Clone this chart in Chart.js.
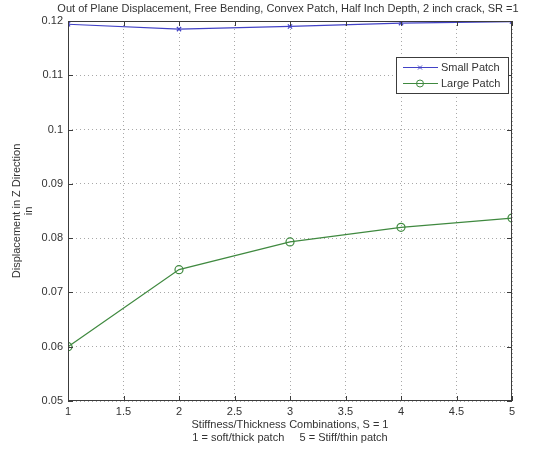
<!DOCTYPE html>
<html>
<head>
<meta charset="utf-8">
<script src="https://cdn.jsdelivr.net/npm/chart.js@4.4.0/dist/chart.umd.min.js"></script>
<style>
  html, body { margin: 0; padding: 0; background: #fff; }
  #wrap { width: 537px; height: 450px; }
</style>
</head>
<body>
<div id="wrap"><canvas id="chart" width="537" height="450"></canvas></div>
<script>
// data
const combos = [1, 2, 3, 4, 5];
const smallPatch = [0.1194, 0.1185, 0.1190, 0.1196, 0.1199];
const largePatch = [0.0600, 0.0742, 0.0793, 0.0820, 0.0837];
const xTicks = [1, 1.5, 2, 2.5, 3, 3.5, 4, 4.5, 5];
const yTicks = [0.05, 0.06, 0.07, 0.08, 0.09, 0.1, 0.11, 0.12];

const SMALL_COLOR = '#4242c6';
const LARGE_COLOR = '#3f893f';
const AXIS_COLOR = '#3c3c3c';
const FONT = 'Liberation Sans, Arial, sans-serif';

const toPoints = (xs, ys) => xs.map((x, i) => ({ x: x, y: ys[i] }));

// frame, inward ticks, titles and legend, MATLAB style
const matlabLook = {
  id: 'matlabLook',
  afterDraw(chart) {
    const ctx = chart.ctx;
    const a = chart.chartArea;
    const xs = chart.scales.x, ys = chart.scales.y;
    ctx.save();
    ctx.strokeStyle = AXIS_COLOR;
    ctx.lineWidth = 1;
    ctx.strokeRect(a.left + 0.5, a.top + 0.5, a.right - a.left - 1, a.bottom - a.top - 1);
    ctx.beginPath();
    xTicks.forEach(v => {
      const px = Math.round(xs.getPixelForValue(v)) + 0.5;
      ctx.moveTo(px, a.bottom); ctx.lineTo(px, a.bottom - 5);
      ctx.moveTo(px, a.top); ctx.lineTo(px, a.top + 5);
    });
    yTicks.forEach(v => {
      const py = Math.round(ys.getPixelForValue(v)) + 0.5;
      ctx.moveTo(a.left, py); ctx.lineTo(a.left + 5, py);
      ctx.moveTo(a.right, py); ctx.lineTo(a.right - 5, py);
    });
    ctx.stroke();

    ctx.fillStyle = '#333';
    ctx.font = '11px ' + FONT;
    ctx.textAlign = 'center';
    ctx.textBaseline = 'middle';
    ctx.fillText('Out of Plane Displacement, Free Bending, Convex Patch, Half Inch Depth, 2 inch crack, SR =1', 288, 9);
    const cx = (a.left + a.right) / 2;
    ctx.fillText('Stiffness/Thickness Combinations, S = 1', cx, 425);
    ctx.fillText('1 = soft/thick patch     5 = Stiff/thin patch', cx, 438);

    ctx.save();
    ctx.translate(17, 211);
    ctx.rotate(-Math.PI / 2);
    ctx.fillText('Displacement in Z Direction', 0, 0);
    ctx.fillText('in', 0, 12);
    ctx.restore();

    // legend box
    const lx = 396, ly = 57, lw = 112, lh = 36;
    ctx.fillStyle = '#fff';
    ctx.fillRect(lx, ly, lw, lh);
    ctx.strokeStyle = AXIS_COLOR;
    ctx.strokeRect(lx + 0.5, ly + 0.5, lw, lh);
    const rows = [
      { label: 'Small Patch', color: SMALL_COLOR, marker: 'x' },
      { label: 'Large Patch', color: LARGE_COLOR, marker: 'o' }
    ];
    rows.forEach((r, i) => {
      const y = ly + 10.5 + i * 16;
      ctx.strokeStyle = r.color;
      ctx.beginPath();
      ctx.moveTo(lx + 7, y); ctx.lineTo(lx + 42, y);
      ctx.stroke();
      ctx.beginPath();
      if (r.marker === 'x') {
        ctx.moveTo(lx + 22, y - 2); ctx.lineTo(lx + 26, y + 2);
        ctx.moveTo(lx + 26, y - 2); ctx.lineTo(lx + 22, y + 2);
      } else {
        ctx.arc(lx + 24, y, 3.5, 0, Math.PI * 2);
      }
      ctx.stroke();
      ctx.fillStyle = '#333';
      ctx.textAlign = 'left';
      ctx.fillText(r.label, lx + 45, y);
    });
    ctx.restore();
  }
};

new Chart(document.getElementById('chart').getContext('2d'), {
  type: 'line',
  data: {
    datasets: [{
      label: 'Small Patch',
      data: toPoints(combos, smallPatch),
      borderColor: SMALL_COLOR,
      backgroundColor: SMALL_COLOR,
      borderWidth: 1.2,
      pointStyle: 'crossRot',
      pointRadius: 3,
      pointBorderWidth: 1.2,
      tension: 0
    }, {
      label: 'Large Patch',
      data: toPoints(combos, largePatch),
      borderColor: LARGE_COLOR,
      backgroundColor: 'rgba(0,0,0,0)',
      borderWidth: 1.2,
      pointStyle: 'circle',
      pointRadius: 4,
      pointBorderWidth: 1.2,
      tension: 0
    }]
  },
  options: {
    responsive: false,
    animation: false,
    layout: { padding: { top: 21, right: 25, left: 0, bottom: 0 } },
    plugins: { legend: { display: false }, tooltip: { enabled: false } },
    scales: {
      x: {
        type: 'linear',
        min: 1, max: 5,
        afterBuildTicks: s => { s.ticks = xTicks.map(v => ({ value: v })); },
        afterFit: s => { s.height = 49; },
        grid: { color: '#a8a8a8', drawTicks: false },
        border: { display: false, dash: [1, 3] },
        ticks: { color: '#333', font: { family: FONT, size: 11 }, padding: 4, maxRotation: 0,
                 callback: v => String(v) }
      },
      y: {
        min: 0.05, max: 0.12,
        afterBuildTicks: s => { s.ticks = yTicks.map(v => ({ value: v })); },
        afterFit: s => { s.width = 68; },
        grid: { color: '#a8a8a8', drawTicks: false },
        border: { display: false, dash: [1, 3] },
        ticks: { color: '#333', font: { family: FONT, size: 11 }, padding: 5,
                 callback: v => String(Math.round(v * 100) / 100) }
      }
    }
  },
  plugins: [matlabLook]
});
</script>
</body>
</html>
